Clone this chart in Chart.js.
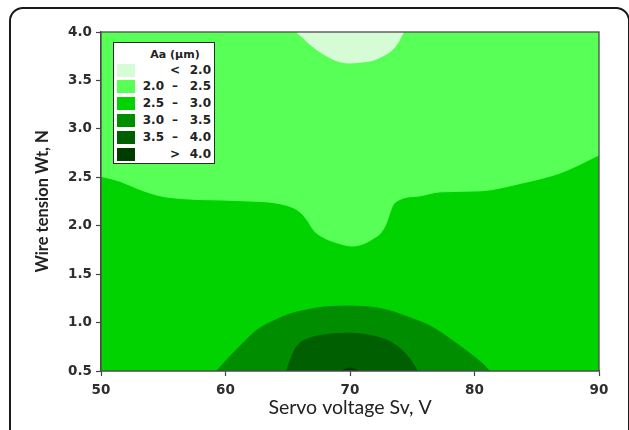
<!DOCTYPE html>
<html>
<head>
<meta charset="utf-8">
<script src="https://cdn.jsdelivr.net/npm/chart.js@4.4.1/dist/chart.umd.min.js"></script>
<style>
  html, body { margin: 0; padding: 0; background: #fff; }
  #wrap { position: relative; width: 629px; height: 430px; overflow: hidden; }
  #frame {
    position: absolute; left: 9px; top: 7px; width: 621px; height: 520px;
    border: 2px solid #1a1a1a; border-radius: 14px; box-sizing: border-box;
  }
  #chart { position: absolute; left: 0; top: 0; }
  #legend {
    position: absolute; left: 113px; top: 42px; width: 102px; height: 122px;
    box-sizing: border-box; border: 1.5px solid #2a2a2a; background: #fff;
    font: bold 12px "DejaVu Sans", sans-serif; color: #222;
  }
  #legend .title { position: absolute; left: 0; right: 0; top: 5px; text-align: center; font-size: 11px; padding-left: 22px; }
  #legend .sw { position: absolute; left: 3px; width: 18px; height: 13px; }
  #legend .c1, #legend .c2, #legend .c3 { position: absolute; line-height: 13px; }
  #legend .c1 { right: 50px; text-align: right; }
  #legend .c2 { left: 55px; width: 12px; text-align: center; }
  #legend .c3 { right: 3px; text-align: right; }
</style>
</head>
<body>
<div id="wrap">
  <div id="frame"></div>
  <canvas id="chart" width="629" height="430"></canvas>
  <div id="legend"><div class="title">Aa (µm)</div></div>
</div>
<script>
// Contour map of Aa over servo voltage (x) and wire tension (y)

const xTickValues = [50, 60, 70, 80, 90];
const yTickValues = [0.5, 1.0, 1.5, 2.0, 2.5, 3.0, 3.5, 4.0];

// legend classes
const levelLow = ["", "2.0", "2.5", "3.0", "3.5", ""];
const levelSign = ["<", "–", "–", "–", "–", ">"];
const levelHigh = ["2.0", "2.5", "3.0", "3.5", "4.0", "4.0"];
const levelColors = ["#d6fcd6", "#57ff57", "#00d300", "#008e00", "#005f00", "#003b00"];

// boundary 2.0–2.5 (above) / 2.5–3.0 (below)
const edge25X = [50, 51.5, 53, 54.7, 56.5, 58, 61, 64.9, 66.0, 66.6, 67.1, 68.0, 68.8, 70.2, 71.2, 71.9, 72.5, 72.9, 73.4, 74.0, 75.7, 77.3, 80.5, 83.8, 87, 90];
const edge25Y = [2.51, 2.46, 2.38, 2.31, 2.28, 2.27, 2.26, 2.21, 2.14, 2.05, 1.95, 1.87, 1.83, 1.79, 1.82, 1.87, 1.93, 2.02, 2.2, 2.27, 2.31, 2.35, 2.36, 2.44, 2.55, 2.73];

// region < 2.0 at the top
const edge20X = [65.7, 66.3, 66.8, 67.9, 69.0, 69.9, 71.0, 71.9, 72.6, 73.25, 73.8, 74.3];
const edge20Y = [4.0, 3.93, 3.87, 3.77, 3.70, 3.68, 3.69, 3.71, 3.75, 3.80, 3.88, 4.0];

// boundary 3.0–3.5 (outer arch)
const edge30X = [59.3, 60.2, 61.2, 62.5, 63.9, 65.2, 66.5, 67.9, 70.0, 72.2, 73.5, 74.6, 76.5, 78.6, 80.0, 80.7, 81.2];
const edge30Y = [0.5, 0.63, 0.76, 0.92, 1.02, 1.09, 1.13, 1.16, 1.17, 1.15, 1.11, 1.06, 0.96, 0.78, 0.645, 0.57, 0.5];

// boundary 3.5–4.0 (inner arch)
const edge35X = [64.9, 65.2, 65.7, 66.8, 68.4, 70.0, 71.9, 73.25, 74.3, 75.0, 75.4];
const edge35Y = [0.5, 0.61, 0.75, 0.84, 0.88, 0.89, 0.86, 0.80, 0.70, 0.59, 0.5];

// tiny > 4.0 spot
const edge40X = [69.3, 70.0, 70.7];
const edge40Y = [0.5, 0.53, 0.5];

const pts = (xs, ys) => xs.map((x, i) => ({ x, y: ys[i] }));

function band(label, data, color, fill, order) {
  return {
    label, data, fill, order,
    backgroundColor: color,
    borderColor: color,
    borderWidth: 1,
    pointRadius: 0,
    cubicInterpolationMode: "monotone",
  };
}

const datasets = [
  band("2.5 – 3.0", pts([50, 90], [4.0, 4.0]), levelColors[2], "start", 10),
  band("2.0 – 2.5", pts(edge25X, edge25Y), levelColors[1], "end", 9),
  band("< 2.0", pts(edge20X, edge20Y), levelColors[0], "end", 8),
  band("3.0 – 3.5", pts(edge30X, edge30Y), levelColors[3], "start", 7),
  band("3.5 – 4.0", pts(edge35X, edge35Y), levelColors[4], "start", 6),
  band("> 4.0", pts(edge40X, edge40Y), levelColors[5], "start", 5),
];

const plotFrame = {
  id: "plotFrame",
  afterDatasetsDraw(chart) {
    const { ctx, chartArea: a } = chart;
    ctx.save();
    ctx.strokeStyle = "#4a4a4a";
    ctx.lineWidth = 1.3;
    ctx.strokeRect(a.left, a.top, a.width, a.height);
    ctx.restore();
  },
};

const tickFont = { family: "DejaVu Sans", size: 13.5, weight: "bold" };

new Chart(document.getElementById("chart"), {
  type: "line",
  data: { datasets },
  plugins: [plotFrame],
  options: {
    responsive: false,
    devicePixelRatio: 1,
    animation: false,
    layout: { padding: { left: 0, top: 32, right: 30, bottom: 0 } },
    plugins: { legend: { display: false }, tooltip: { enabled: false } },
    scales: {
      x: {
        type: "linear",
        min: 50, max: 90,
        afterBuildTicks: (s) => { s.ticks = xTickValues.map((v) => ({ value: v })); },
        afterFit: (s) => { s.height = 59; },
        grid: { drawOnChartArea: false, tickLength: 5, color: "#444", tickWidth: 1.2 },
        border: { color: "#444", width: 1.3 },
        ticks: { font: tickFont, color: "#2e2e2e", padding: 6, maxRotation: 0 },
        title: {
          display: true, text: "Servo voltage Sv, V", color: "#222",
          font: { family: "Lato", size: 19.5, weight: "normal" },
          padding: { top: 0, bottom: 10.5 },
        },
      },
      y: {
        type: "linear",
        min: 0.5, max: 4.0,
        afterBuildTicks: (s) => { s.ticks = yTickValues.map((v) => ({ value: v })); },
        afterFit: (s) => { s.width = 101; },
        grid: { drawOnChartArea: false, tickLength: 5, color: "#444", tickWidth: 1.2 },
        border: { color: "#444", width: 1.3 },
        ticks: { font: tickFont, color: "#2e2e2e", padding: 4, callback: (v) => v.toFixed(1) },
        title: {
          display: true, text: "Wire tension Wt, N", color: "#222",
          font: { family: "Lato", size: 16.5, weight: "bold" },
          padding: { top: 33, bottom: 0 },
        },
      },
    },
  },
});

// legend box inside the plot
const legend = document.getElementById("legend");
levelColors.forEach((c, i) => {
  const top = 20.5 + i * 16.9;
  const sw = document.createElement("div");
  sw.className = "sw";
  sw.style.top = top + "px";
  sw.style.background = c;
  legend.appendChild(sw);
  [["c1", levelLow[i]], ["c2", levelSign[i]], ["c3", levelHigh[i]]].forEach(([cls, txt]) => {
    const el = document.createElement("div");
    el.className = cls;
    el.style.top = top + "px";
    el.textContent = txt;
    legend.appendChild(el);
  });
});
</script>
</body>
</html>
